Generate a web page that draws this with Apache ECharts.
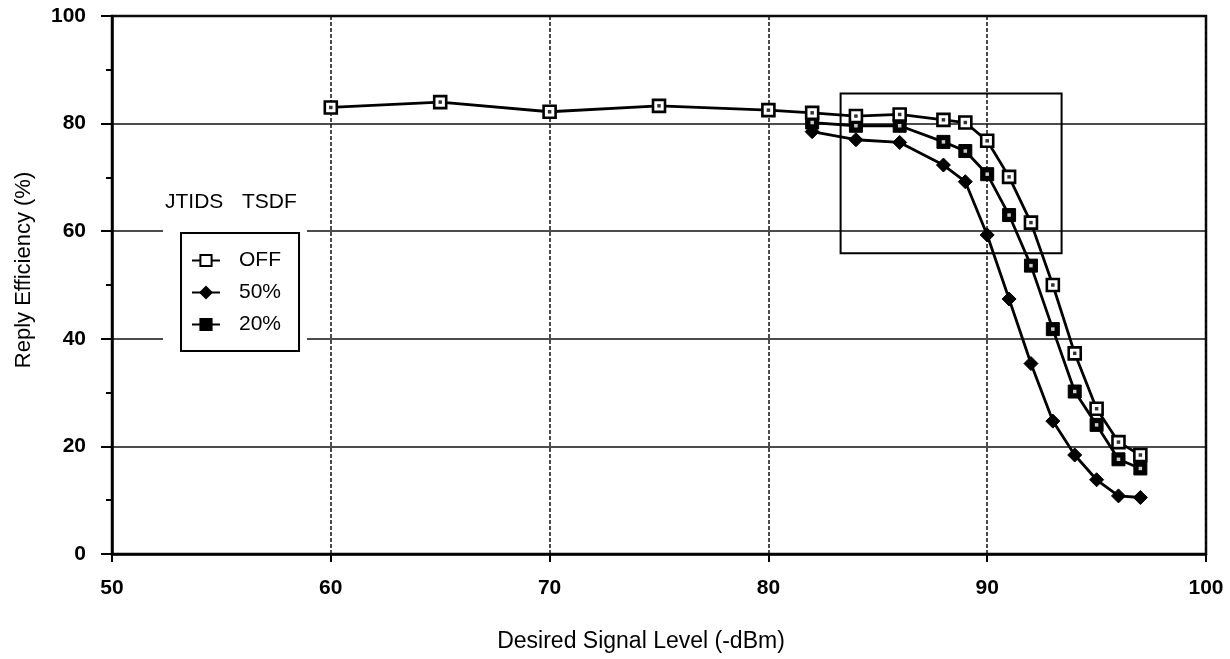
<!DOCTYPE html>
<html>
<head>
<meta charset="utf-8">
<script src="https://cdn.jsdelivr.net/npm/echarts@6/dist/echarts.min.js"></script>
<style>
html,body{margin:0;padding:0;background:#fff;}
#c{width:1230px;height:659px;}
</style>
</head>
<body>
<div id="c"></div>
<script>
// ---- data ----
const xOff = [60, 65, 70, 75, 80, 82, 84, 86, 88, 89, 90, 91, 92, 93, 94, 95, 96, 97];
const yOff = [83.0, 84.0, 82.2, 83.3, 82.5, 82.0, 81.4, 81.7, 80.7, 80.2, 76.8, 70.1, 61.6, 50.0, 37.3, 27.0, 20.8, 18.4];
const xLow = [82, 84, 86, 88, 89, 90, 91, 92, 93, 94, 95, 96, 97];
const y50 = [78.5, 77.0, 76.5, 72.3, 69.2, 59.3, 47.4, 35.4, 24.7, 18.4, 13.8, 10.8, 10.5];
const y20 = [80.2, 79.6, 79.6, 76.6, 74.9, 70.6, 63.0, 53.6, 41.8, 30.2, 24.0, 17.6, 15.9];
const seriesNames = ['OFF', '50%', '20%'];
const boxX = [83.3, 93.4];
const boxY = [55.9, 85.6];
const xRange = [50, 100];
const yRange = [0, 100];
const xTitle = 'Desired Signal Level (-dBm)';
const yTitle = 'Reply Efficiency (%)';
const legendTitleWords = ['JTIDS', 'TSDF'];

const pairs = (xs, ys) => xs.map((x, i) => [x, ys[i]]);
const FONT = 'Liberation Sans';

const chart = echarts.init(document.getElementById('c'));
chart.setOption({
  animation: false,
  backgroundColor: '#fff',
  textStyle: { fontFamily: FONT, color: '#000' },
  grid: { left: 112, right: 24, top: 16, bottom: 105, show: true, borderColor: '#000', borderWidth: 2.5, backgroundColor: 'transparent' },
  xAxis: {
    type: 'value', min: xRange[0], max: xRange[1], interval: 10,
    name: xTitle, nameLocation: 'middle', nameGap: 76,
    nameTextStyle: { fontSize: 23, fontFamily: FONT, color: '#000', padding: [0, 36, 0, 0] },
    axisLine: { show: true, lineStyle: { color: '#000', width: 2.5 } },
    axisTick: { show: true, length: 8, lineStyle: { color: '#000', width: 2 } },
    axisLabel: { fontSize: 21, fontWeight: 'bold', color: '#000', margin: 24, fontFamily: FONT },
    splitLine: { show: true, lineStyle: { color: '#111', width: 1.5, type: [4, 2] } }
  },
  yAxis: {
    type: 'value', min: yRange[0], max: yRange[1], interval: 20,
    name: yTitle, nameLocation: 'middle', nameGap: 77,
    nameTextStyle: { fontSize: 22, fontFamily: FONT, color: '#000', padding: [0, 0, 0, 30] },
    axisLine: { show: true, lineStyle: { color: '#000', width: 2.5 } },
    axisTick: { show: true, length: 11, lineStyle: { color: '#000', width: 2 } },
    minorTick: { show: true, splitNumber: 2, length: 6, lineStyle: { color: '#000', width: 2 } },
    axisLabel: { fontSize: 21, fontWeight: 'bold', color: '#000', margin: 26, fontFamily: FONT },
    splitLine: { show: true, lineStyle: { color: '#111', width: 1.5 } }
  },
  legend: {
    data: seriesNames,
    orient: 'vertical',
    left: 181, top: 233,
    padding: [17, 18, 16, 10],
    itemGap: 11, itemWidth: 28, itemHeight: 14,
    backgroundColor: '#fff', borderColor: '#000', borderWidth: 2,
    textStyle: { fontSize: 21, color: '#000', fontFamily: FONT, padding: [0, 0, 0, 14] },
    z: 6
  },
  graphic: [
    { type: 'rect', left: 163, top: 226, shape: { width: 144, height: 126 }, style: { fill: '#fff' }, z: 1 },
    { type: 'text', left: 165, top: 192, style: { text: legendTitleWords[0], fontSize: 21, fontFamily: FONT, fill: '#000' }, z: 6 },
    { type: 'text', left: 242, top: 192, style: { text: legendTitleWords[1], fontSize: 21, fontFamily: FONT, fill: '#000' }, z: 6 }
  ],
  series: [
    {
      name: 'OFF', type: 'line', data: pairs(xOff, yOff),
      symbol: 'rect', symbolSize: 12, showAllSymbol: true,
      lineStyle: { color: '#000', width: 2.8 },
      itemStyle: { color: '#fff', borderColor: '#000', borderWidth: 2.6 },
      z: 4,
      markArea: {
        silent: true,
        itemStyle: { color: 'rgba(0,0,0,0)', borderColor: '#000', borderWidth: 2 },
        data: [[{ coord: [boxX[0], boxY[1]] }, { coord: [boxX[1], boxY[0]] }]]
      }
    },
    {
      name: '50%', type: 'line', data: pairs(xLow, y50),
      symbol: 'diamond', symbolSize: 14, showAllSymbol: true,
      lineStyle: { color: '#000', width: 2.8 },
      itemStyle: { color: '#000', borderColor: '#000', borderWidth: 1 },
      z: 3
    },
    {
      name: '20%', type: 'line', data: pairs(xLow, y20),
      symbol: 'rect', symbolSize: 13, showAllSymbol: true,
      lineStyle: { color: '#000', width: 2.8 },
      itemStyle: { color: '#000', borderColor: '#000', borderWidth: 1 },
      z: 3
    },
    {
      name: 'offDots', type: 'scatter', data: pairs(xOff, yOff),
      symbol: 'rect', symbolSize: 3.5, itemStyle: { color: '#000' }, z: 7, silent: true
    },
    {
      name: 'dots20', type: 'scatter', data: pairs(xLow, y20),
      symbol: 'rect', symbolSize: 3.5, itemStyle: { color: '#fff' }, z: 7, silent: true
    }
  ]
});
</script>
</body>
</html>
